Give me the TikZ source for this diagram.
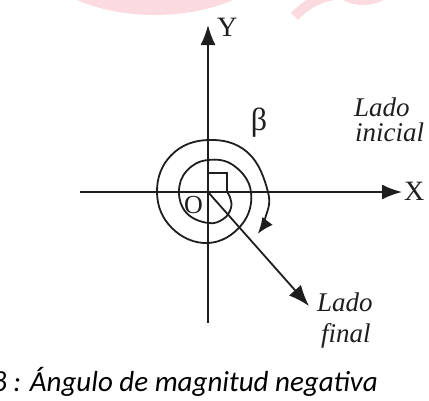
\documentclass[tikz,border=0pt]{standalone}
\usepackage{fontspec}
\setmainfont{Liberation Serif}
\newfontfamily\calib{Carlito}
\usetikzlibrary{arrows.meta}
\definecolor{wmpink}{RGB}{251,219,223}
\definecolor{ink}{RGB}{30,30,30}
\tikzset{
  axisline/.style={ink, line width=1.8pt, -{Latex[length=20pt,width=15pt]}},
  curveline/.style={ink, line width=1.8pt},
  lbl/.style={ink, font=\fontsize{28}{28}\selectfont, inner sep=0pt},
  itl/.style={ink, font=\fontsize{27}{27}\selectfont\itshape, inner sep=0pt, anchor=base west},
  pinkfill/.style={fill=wmpink, draw=none},
}
\begin{document}
\begin{tikzpicture}[x=1pt,y=-1pt]
\useasboundingbox (0,0) rectangle (429,400);
\clip (0,0) rectangle (429,400);
% watermark shapes
\fill[pinkfill] (155,-60) ellipse [x radius=130, y radius=75];
\draw[wmpink, line width=10pt] (345,62) ++(222:68) arc[start angle=222, end angle=262, radius=68];
\fill[pinkfill] (363,-22) ellipse [x radius=35, y radius=27];
% coordinates
\coordinate (O) at (208,192);
\coordinate (xs) at (80,192);
\coordinate (xe) at (402,192);
\coordinate (ys) at (208,323);
\coordinate (ye) at (208,25);
\coordinate (fe) at (309,306);
% axes
\draw[axisline] (xs) -- (xe);
\draw[axisline] (ys) -- (ye);
\draw[ink, line width=1.8pt, -{Latex[length=21pt,width=16pt]}] (O) -- (fe);
% spiral
\draw[curveline, -{Latex[length=16pt,width=13pt]}, shift={(O)}]
  (0,-19) -- (19,-19) -- plot[smooth, tension=0.7] coordinates {
  (0:19) (15:23) (35:28) (60:31) (90:31) (135:30) (180:29) (225:30) (270:32)
  (315:37) (360:43) (405:47) (450:51) (495:51) (540:51) (585:52) (630:52)
  (675:56) (720:60) (745:63) (760:65)};
% labels
\node[lbl, anchor=west] (ylab) at (217,27) {Y};
\node[lbl, anchor=west] (xlab) at (404,191) {X};
\node[lbl, font=\fontsize{26}{26}\selectfont] (olab) at (193.5,205.5) {O};
\node[lbl, font=\fontsize{32}{32}\selectfont] (beta) at (259,123) {β};
\node[itl] (li1) at (354,116) {Lado};
\node[itl] (li2) at (355,141) {inicial};
\node[itl] (lf1) at (317,311) {Lado};
\node[itl] (lf2) at (321,342) {final};
\node[inner sep=0pt, anchor=base east, font=\calib\itshape\fontsize{29}{29}\selectfont] (cap) at (378,391) {β : Ángulo de magnitud negativa};
\end{tikzpicture}
\end{document}
